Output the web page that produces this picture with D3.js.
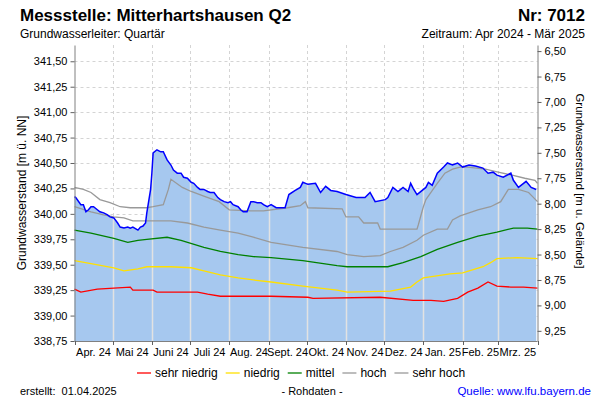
<!DOCTYPE html>
<html><head><meta charset="utf-8">
<script src="https://cdn.jsdelivr.net/npm/d3@7"></script>
<style>
body{margin:0;background:#fff}
svg{display:block;font-family:"Liberation Sans",Arial,sans-serif}
</style>
</head><body>
<svg id="c" width="600" height="400"></svg>
<script>
// ---------- data ----------
const monthLabels = ["Apr. 24","Mai 24","Juni 24","Juli 24","Aug. 24","Sept. 24","Okt. 24","Nov. 24","Dez. 24","Jan. 25","Feb. 25","Mrz. 25"];
const leftTicks = [338.75,339.00,339.25,339.50,339.75,340.00,340.25,340.50,340.75,341.00,341.25,341.50];
const rightTicks = [6.50,6.75,7.00,7.25,7.50,7.75,8.00,8.25,8.50,8.75,9.00,9.25];
const groundLevel = 348.10;

const levelDates = ["2024-04-01","2024-04-02","2024-04-06","2024-04-08","2024-04-10","2024-04-12","2024-04-14","2024-04-16","2024-04-19","2024-04-21","2024-04-24","2024-04-27","2024-04-29","2024-05-02","2024-05-05","2024-05-07","2024-05-10","2024-05-13","2024-05-15","2024-05-17","2024-05-21","2024-05-23","2024-05-25","2024-05-27","2024-05-28","2024-05-31","2024-06-01","2024-06-02","2024-06-05","2024-06-08","2024-06-10","2024-06-13","2024-06-16","2024-06-18","2024-06-21","2024-06-24","2024-06-26","2024-06-29","2024-07-02","2024-07-04","2024-07-07","2024-07-09","2024-07-12","2024-07-15","2024-07-17","2024-07-20","2024-07-23","2024-07-25","2024-07-28","2024-07-31","2024-08-02","2024-08-04","2024-08-08","2024-08-10","2024-08-12","2024-08-15","2024-08-18","2024-08-20","2024-08-23","2024-08-26","2024-08-28","2024-08-31","2024-09-03","2024-09-07","2024-09-14","2024-09-17","2024-09-22","2024-09-26","2024-09-28","2024-10-02","2024-10-08","2024-10-12","2024-10-16","2024-10-20","2024-10-25","2024-11-01","2024-11-09","2024-11-16","2024-11-20","2024-11-24","2024-12-02","2024-12-04","2024-12-08","2024-12-12","2024-12-16","2024-12-20","2024-12-22","2024-12-24","2024-12-27","2025-01-03","2025-01-05","2025-01-08","2025-01-12","2025-01-17","2025-01-20","2025-01-24","2025-01-28","2025-02-01","2025-02-06","2025-02-11","2025-02-17","2025-02-21","2025-02-25","2025-02-28","2025-03-05","2025-03-11","2025-03-13","2025-03-17","2025-03-21","2025-03-23","2025-03-27","2025-03-31"];
const levelValues = [340.17,340.16,340.09,340.09,340.02,340.04,340.07,340.07,340.04,340.02,340.01,339.99,339.97,339.96,339.91,339.87,339.86,339.87,339.86,339.87,339.84,339.87,339.88,339.91,340.01,340.24,340.40,340.60,340.63,340.61,340.61,340.53,340.48,340.43,340.40,340.40,340.36,340.35,340.31,340.30,340.26,340.24,340.24,340.22,340.21,340.21,340.16,340.14,340.12,340.11,340.12,340.09,340.07,340.04,340.02,340.02,340.12,340.12,340.11,340.11,340.09,340.07,340.09,340.06,340.06,340.19,340.23,340.26,340.31,340.29,340.30,340.21,340.27,340.23,340.22,340.19,340.16,340.16,340.21,340.12,340.14,340.16,340.26,340.22,340.26,340.22,340.30,340.25,340.19,340.26,340.31,340.28,340.40,340.46,340.50,340.48,340.50,340.46,340.48,340.47,340.45,340.40,340.41,340.38,340.36,340.40,340.33,340.26,340.30,340.32,340.26,340.24];

const sehrHoch = [["2024-04-01",340.26],["2024-04-08",340.24],["2024-04-14",340.21],["2024-04-21",340.14],["2024-04-29",340.11],["2024-05-07",340.07],["2024-05-15",340.06],["2024-05-28",340.06],["2024-06-02",340.07],["2024-06-10",340.09],["2024-06-14",340.24],["2024-06-16",340.34],["2024-06-25",340.26],["2024-07-02",340.22],["2024-07-13",340.17],["2024-07-24",340.12],["2024-08-01",340.04],["2024-08-18",340.03],["2024-08-28",340.03],["2024-09-16",340.06],["2024-09-26",340.08],["2024-09-30",340.12],["2024-10-02",340.06],["2024-10-29",340.05],["2024-11-01",339.97],["2024-11-11",339.97],["2024-11-15",339.91],["2024-11-26",339.91],["2024-11-28",339.85],["2024-12-27",339.85],["2024-12-28",339.89],["2025-01-01",340.07],["2025-01-03",340.14],["2025-01-07",340.21],["2025-01-12",340.30],["2025-01-18",340.40],["2025-01-24",340.44],["2025-01-30",340.46],["2025-02-05",340.46],["2025-02-19",340.44],["2025-03-01",340.41],["2025-03-12",340.38],["2025-03-22",340.35],["2025-03-30",340.33],["2025-04-01",340.30]];
const hoch = [["2024-04-01",340.07],["2024-04-14",340.02],["2024-04-24",339.99],["2024-05-02",339.97],["2024-05-10",339.96],["2024-05-17",339.93],["2024-06-16",339.93],["2024-06-29",339.91],["2024-07-12",339.87],["2024-07-25",339.84],["2024-08-08",339.81],["2024-08-20",339.77],["2024-09-03",339.72],["2024-09-28",339.67],["2024-10-25",339.63],["2024-11-02",339.60],["2024-11-15",339.58],["2024-11-28",339.59],["2024-12-06",339.63],["2024-12-16",339.67],["2024-12-27",339.74],["2025-01-01",339.79],["2025-01-12",339.85],["2025-01-20",339.85],["2025-01-24",339.94],["2025-01-30",339.98],["2025-02-13",340.04],["2025-02-23",340.07],["2025-03-03",340.12],["2025-03-09",340.24],["2025-03-17",340.24],["2025-03-25",340.21],["2025-04-01",340.12]];
const mittel = [["2024-04-01",339.84],["2024-04-14",339.81],["2024-05-02",339.76],["2024-05-13",339.72],["2024-05-21",339.74],["2024-05-28",339.75],["2024-06-13",339.77],["2024-06-24",339.74],["2024-07-12",339.67],["2024-07-25",339.63],["2024-08-08",339.60],["2024-08-20",339.58],["2024-09-03",339.57],["2024-09-28",339.54],["2024-10-25",339.49],["2024-11-02",339.48],["2024-12-04",339.48],["2024-12-16",339.52],["2024-12-30",339.58],["2025-01-12",339.65],["2025-01-28",339.72],["2025-02-13",339.78],["2025-02-28",339.82],["2025-03-13",339.86],["2025-03-24",339.86],["2025-04-01",339.85]];
const niedrig = [["2024-04-01",339.54],["2024-04-14",339.51],["2024-05-02",339.47],["2024-05-10",339.44],["2024-05-21",339.46],["2024-05-28",339.48],["2024-06-16",339.48],["2024-07-02",339.47],["2024-07-12",339.44],["2024-07-25",339.40],["2024-08-08",339.37],["2024-08-20",339.35],["2024-09-03",339.33],["2024-09-28",339.29],["2024-10-25",339.25],["2024-11-02",339.23],["2024-12-06",339.24],["2024-12-22",339.28],["2024-12-27",339.33],["2025-01-01",339.37],["2025-01-22",339.41],["2025-02-01",339.42],["2025-02-17",339.48],["2025-02-23",339.52],["2025-02-28",339.56],["2025-03-16",339.57],["2025-04-01",339.56]];
const sehrNiedrig = [["2024-04-01",339.26],["2024-04-06",339.23],["2024-04-19",339.26],["2024-05-15",339.28],["2024-05-17",339.25],["2024-06-02",339.25],["2024-06-05",339.23],["2024-07-07",339.23],["2024-07-15",339.21],["2024-07-25",339.19],["2024-09-03",339.19],["2024-10-02",339.18],["2024-10-06",339.17],["2024-11-28",339.18],["2024-12-24",339.15],["2025-01-07",339.15],["2025-01-17",339.14],["2025-01-28",339.17],["2025-02-05",339.23],["2025-02-13",339.27],["2025-02-21",339.33],["2025-02-28",339.29],["2025-03-11",339.28],["2025-03-21",339.28],["2025-04-01",339.27]];

const legendNames = ["sehr niedrig","niedrig","mittel","hoch","sehr hoch"];
const legendColors = ["#ff0000","#ffe000","#008000","#999999","#999999"];

// ---------- chart ----------
const svg = d3.select("#c");
const M = {left:74.5, right:537.5, top:45, bottom:341};
const parse = d3.utcParse("%Y-%m-%d");
const x = d3.scaleUtc().domain([parse("2024-04-01"), parse("2025-04-01")]).range([M.left, M.right]);
const y = d3.scaleLinear().domain([338.75, 341.66]).range([M.bottom, M.top]);
const yR = d3.scaleLinear().domain([groundLevel-338.75, groundLevel-341.66]).range([M.bottom, M.top]);

const months = d3.utcMonth.range(parse("2024-04-01"), parse("2025-04-02"));

// dashed grid
const grid = svg.append("g");
grid.selectAll("line.h").data(leftTicks).join("line")
  .attr("x1", M.left).attr("x2", M.right)
  .attr("y1", d => Math.round(y(d))+0.5).attr("y2", d => Math.round(y(d))+0.5)
  .attr("stroke", "#d4d4d4").attr("stroke-dasharray", "3,3");
grid.selectAll("line.v").data(months.slice(1, -1)).join("line")
  .attr("x1", d => Math.round(x(d))+0.5).attr("x2", d => Math.round(x(d))+0.5)
  .attr("y1", M.top).attr("y2", M.bottom)
  .attr("stroke", "#d4d4d4").attr("stroke-dasharray", "3,3");

const level = levelDates.map((d, i) => ({date: parse(d), value: levelValues[i]}));
const area = d3.area().x(d => x(d.date)).y0(M.bottom).y1(d => y(d.value));
svg.append("path").datum(level).attr("d", area).attr("fill", "#a6c8ef");

svg.append("clipPath").attr("id", "areaClip").append("path").datum(level).attr("d", area);
svg.append("g").attr("clip-path", "url(#areaClip)")
  .selectAll("line").data(months.slice(1, -1)).join("line")
  .attr("x1", d => Math.round(x(d))+0.5).attr("x2", d => Math.round(x(d))+0.5)
  .attr("y1", M.top).attr("y2", M.bottom)
  .attr("stroke", "#e2e2e2").attr("stroke-width", 1.5);

const line = d3.line().x(d => x(parse(d[0]))).y(d => y(d[1]));
const stats = [[sehrNiedrig,"#ff0000"],[niedrig,"#ffe000"],[mittel,"#008000"],[hoch,"#999999"],[sehrHoch,"#999999"]];
stats.forEach(([s, c]) => {
  svg.append("path").datum(s).attr("d", line).attr("fill", "none").attr("stroke", c).attr("stroke-width", 1.3);
});

svg.append("path").datum(level)
  .attr("d", d3.line().x(d => x(d.date)).y(d => y(d.value)))
  .attr("fill", "none").attr("stroke", "#0000ff").attr("stroke-width", 1.5);

// axes
const fmt = d => d.toFixed(2).replace(".", ",");
const gL = svg.append("g").attr("transform", `translate(${M.left},0)`)
  .call(d3.axisLeft(y).tickValues(leftTicks).tickSize(4).tickSizeOuter(0).tickFormat(fmt));
const gR = svg.append("g").attr("transform", `translate(${M.right},0)`)
  .call(d3.axisRight(yR).tickValues(rightTicks).tickSize(4).tickSizeOuter(0).tickFormat(fmt));
[gL, gR].forEach(g => {
  g.select(".domain").attr("stroke", "#808080");
  g.selectAll(".tick line").attr("stroke", "#606060");
  g.selectAll(".tick text").attr("font-size", 11).attr("fill", "#000").attr("font-family", "Liberation Sans, Arial, sans-serif");
});

const gB = svg.append("g");
gB.append("line").attr("x1", M.left).attr("x2", M.right).attr("y1", M.bottom+0.5).attr("y2", M.bottom+0.5).attr("stroke", "#808080");
gB.selectAll("line.t").data(months).join("line")
  .attr("x1", d => Math.round(x(d))+0.5).attr("x2", d => Math.round(x(d))+0.5)
  .attr("y1", M.bottom).attr("y2", M.bottom+4).attr("stroke", "#606060");
gB.selectAll("text").data(months.slice(0, -1)).join("text")
  .attr("x", (d, i) => (x(d) + x(months[i+1])) / 2)
  .attr("y", M.bottom + 15)
  .attr("text-anchor", "middle").attr("font-size", 11)
  .text((d, i) => monthLabels[i]);

// axis titles
svg.append("text").attr("transform", `translate(26,${(M.top+M.bottom)/2}) rotate(-90)`)
  .attr("text-anchor", "middle").attr("font-size", 12).text("Grundwasserstand [m ü. NN]");
svg.append("text").attr("transform", `translate(576,181) rotate(90)`)
  .attr("text-anchor", "middle").attr("font-size", 11.5).text("Grundwasserstand [m u. Gelände]");

// header
svg.append("text").attr("x", 20).attr("y", 21).attr("font-size", 17).attr("font-weight", "bold").text("Messstelle: Mitterhartshausen Q2");
svg.append("text").attr("x", 585).attr("y", 21).attr("font-size", 17).attr("font-weight", "bold").attr("text-anchor", "end").text("Nr: 7012");
svg.append("text").attr("x", 20).attr("y", 38).attr("font-size", 12).text("Grundwasserleiter: Quartär");
svg.append("text").attr("x", 585).attr("y", 38).attr("font-size", 12).attr("text-anchor", "end").text("Zeitraum: Apr 2024 - Mär 2025");

// legend
const lg = svg.append("g").attr("transform", "translate(137,377)");
let lx = 0;
legendNames.forEach((n, i) => {
  lg.append("line").attr("x1", lx).attr("x2", lx+14).attr("y1", -4).attr("y2", -4).attr("stroke", legendColors[i]).attr("stroke-width", 1.3);
  const t = lg.append("text").attr("x", lx+18).attr("y", 0).attr("font-size", 12).text(n);
  lx += 18 + t.node().getComputedTextLength() + 8;
});

// footer
svg.append("text").attr("x", 20).attr("y", 395).attr("font-size", 11).attr("xml:space", "preserve").text("erstellt:  01.04.2025");
svg.append("text").attr("x", 312).attr("y", 395).attr("font-size", 11).attr("text-anchor", "middle").text("- Rohdaten -");
svg.append("text").attr("x", 591).attr("y", 395).attr("font-size", 11.5).attr("text-anchor", "end").attr("fill", "#0000ff").text("Quelle: www.lfu.bayern.de");
</script>
</body></html>
